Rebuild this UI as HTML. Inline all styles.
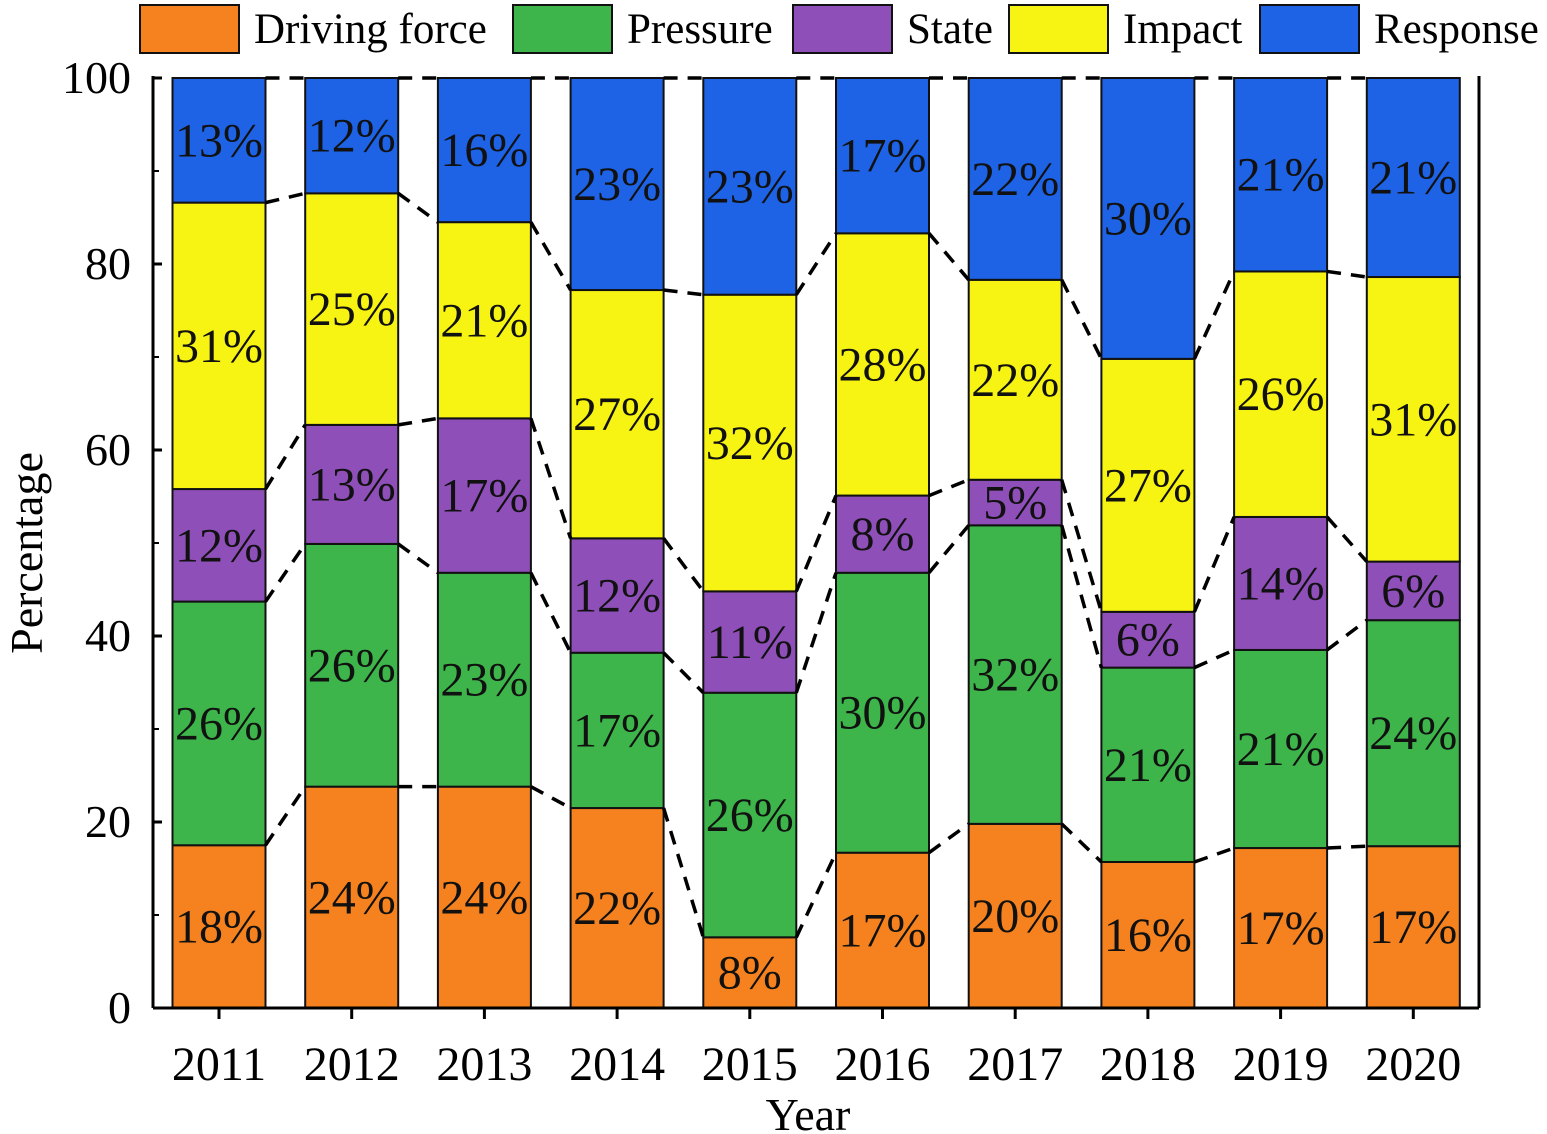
<!DOCTYPE html>
<html><head><meta charset="utf-8"><style>
body{margin:0;background:#fff}
svg{display:block;font-family:"Liberation Serif",serif}
</style></head><body>
<svg id="chart" width="1547" height="1134" viewBox="0 0 1547 1134"></svg>
<script>
const years=["2011","2012","2013","2014","2015","2016","2017","2018","2019","2020"];
const seriesNames=["Driving force","Pressure","State","Impact","Response"];
const drivingForce=[17.5,23.8,23.8,21.5,7.6,16.7,19.8,15.7,17.2,17.4];
const pressure=[26.2,26.1,23.0,16.7,26.3,30.1,32.1,20.9,21.3,24.3];
const stateVals=[12.1,12.8,16.6,12.3,10.9,8.3,4.9,6.0,14.3,6.3];
const impact=[30.8,24.9,21.1,26.7,31.9,28.2,21.5,27.2,26.4,30.6];
const response=[13.4,12.4,15.5,22.8,23.3,16.7,21.7,30.2,20.8,21.4];
const yTicks=[0,20,40,60,80,100];
const colors=["#f5821f","#3db54a","#8f4fb8","#f7f312","#1e63e6"];
const series=[drivingForce,pressure,stateVals,impact,response];
const NS="http://www.w3.org/2000/svg";
const svg=document.getElementById("chart");
const x0=153,x1=1479,yTop=78,yBot=1008,bw=93;
const y=v=>yBot-(v/100)*(yBot-yTop);
const xc=i=>219+i*132.7;
function mk(t,a,p){const e=document.createElementNS(NS,t);for(const k in a)e.setAttribute(k,a[k]);(p||svg).appendChild(e);return e;}
const cum=years.map(()=>[0]);
years.forEach((yr,i)=>{let c=0;series.forEach((s,k)=>{c+=s[i];cum[i].push(c);});});
years.forEach((yr,i)=>{
  series.forEach((s,k)=>{
    const a=cum[i][k],b=cum[i][k+1];
    const r=mk("rect",{x:xc(i)-bw/2,y:y(b),width:bw,height:y(a)-y(b),fill:colors[k],stroke:"#111","stroke-width":2});
    
    
  });
});
for(let i=0;i<years.length-1;i++){
  for(let k=1;k<=5;k++){
    const l=mk("line",{x1:xc(i)+bw/2,y1:y(cum[i][k]),x2:xc(i+1)-bw/2,y2:y(cum[i+1][k]),stroke:"#000","stroke-width":3.5,"stroke-dasharray":"14 10"});
    
    
  }
}
years.forEach((yr,i)=>{
  series.forEach((s,k)=>{
    const a=cum[i][k],b=cum[i][k+1];
    const t=mk("text",{x:xc(i),y:(y(a)+y(b))/2+16,"text-anchor":"middle","font-size":48,fill:"#111"});
    t.textContent=Math.round(s[i])+"%";
    
    
  });
});
mk("line",{x1:x0,y1:yTop-2,x2:x0,y2:yBot,stroke:"#000","stroke-width":3});
mk("line",{x1:x1,y1:yTop-2,x2:x1,y2:yBot,stroke:"#000","stroke-width":3});
mk("line",{x1:x0,y1:yBot,x2:x1,y2:yBot,stroke:"#000","stroke-width":3});
yTicks.forEach(v=>{
  mk("line",{x1:x0,y1:y(v),x2:x0+9,y2:y(v),stroke:"#000","stroke-width":3});
  if(v<100)mk("line",{x1:x0,y1:y(v+10),x2:x0+6,y2:y(v+10),stroke:"#000","stroke-width":2});
  const t=mk("text",{x:131,y:y(v)+15,"text-anchor":"end","font-size":46});
  t.textContent=v;
  
  
});
years.forEach((yr,i)=>{
  mk("line",{x1:xc(i),y1:yBot,x2:xc(i),y2:yBot+11,stroke:"#000","stroke-width":3});
  const t=mk("text",{x:xc(i),y:1080,"text-anchor":"middle","font-size":48});
  t.textContent=yr;
  
  
});
const xt=mk("text",{x:808,y:1130,"text-anchor":"middle","font-size":46});xt.textContent="Year";


const yt=mk("text",{x:0,y:0,"text-anchor":"middle","font-size":46,transform:"translate(42,553) rotate(-90)"});yt.textContent="Percentage";


const lx=[140,513,793,1009,1260];
seriesNames.forEach((n,k)=>{
  const g=mk("g",{});
  
  
  mk("rect",{x:lx[k],y:5,width:99,height:48,fill:colors[k],stroke:"#111","stroke-width":2},g);
  const t=mk("text",{x:lx[k]+114,y:43,"font-size":43},g);t.textContent=n;
});
</script>
</body></html>
